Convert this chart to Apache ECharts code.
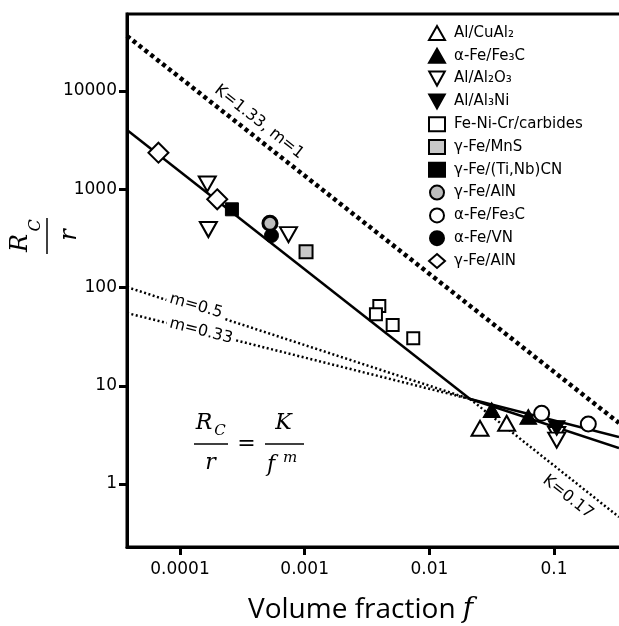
<!DOCTYPE html>
<html>
<head>
<meta charset="utf-8">
<script src="https://cdn.jsdelivr.net/npm/echarts@6/dist/echarts.min.js"></script>
<style>
  html, body { margin: 0; padding: 0; background: #fff; }
  #chart { width: 619px; height: 626px; }
</style>
</head>
<body>
<div id="chart"></div>
<script>
// axis ranges: volume fraction f (x) and Rc/r (y), both log
const xMin = 3.76e-5, xMax = 0.3575
const yMin = 0.2285, yMax = 60770
const xTicks = [0.0001, 0.001, 0.01, 0.1]
const xTickLabels = ['0.0001', '0.001', '0.01', '0.1']
const yTicks = [1, 10, 100, 1000, 10000]
const yTickLabels = ['1', '10', '100', '1000', '10000']

// legend text, in the order shown
const legendLabels = ['Al/CuAl₂', 'α-Fe/Fe₃C', 'Al/Al₂O₃', 'Al/Al₃Ni', 'Fe-Ni-Cr/carbides',
  'γ-Fe/MnS', 'γ-Fe/(Ti,Nb)CN', 'γ-Fe/AlN', 'α-Fe/Fe₃C', 'α-Fe/VN', 'γ-Fe/AlN']

// measured points (f, Rc/r)
const cuAl2F = [0.0255, 0.0417]
const cuAl2R = [3.69, 4.15]
const fe3cTriF = [0.0316, 0.0622]
const fe3cTriR = [5.66, 4.84]
const al2o3F = [1.656e-4, 1.69e-4, 7.42e-4, 0.1051, 0.1051]
const al2o3R = [1131, 389, 345, 3.19, 2.80]
const al3niF = [0.1051]
const al3niR = [3.69]
const carbF = [3.97e-3, 3.73e-3, 5.08e-3, 7.43e-3]
const carbR = [64.8, 53.4, 41.5, 30.4]
const mnsF = [1.026e-3]
const mnsR = [231]
const tinbF = [2.61e-4]
const tinbR = [625]
const alnCircF = [5.27e-4]
const alnCircR = [450]
const fe3cCircF = [0.0796, 0.1884]
const fe3cCircR = [5.24, 4.08]
const vnF = [5.42e-4]
const vnR = [338]
const alnDiaF = [6.72e-5, 1.99e-4]
const alnDiaR = [2355, 790]

// lines, end points
const k133F = [3.76e-5, 0.332]
const k133R = [36300, 4.18]
const fitF = [3.76e-5, 0.0212]
const fitR = [4010, 7.33]
const k017F = [0.0212, 0.332]
const k017R = [7.33, 0.461]
const m05F = [3.76e-5, 0.0212]
const m05R = [101, 7.33]
const m033F = [3.76e-5, 0.0212]
const m033R = [55.0, 7.33]
const upperF = [0.0212, 0.332]
const upperR = [7.33, 3.01]
const lowerF = [0.0212, 0.332]
const lowerR = [7.33, 2.32]

const pts = (fs, rs) => fs.map((f, i) => [f, rs[i]])

const chart = echarts.init(document.getElementById('chart'))

function lineSeries(fs, rs, style) {
  return {
    type: 'line',
    data: pts(fs, rs),
    symbol: 'none',
    silent: true,
    z: 1,
    lineStyle: Object.assign({ color: '#000', cap: 'butt' }, style)
  }
}

const thinDot = { width: 2.5, type: [2, 2.5] }
const solid = { width: 2.5, type: 'solid' }

const open = { color: '#fff', borderColor: '#000', borderWidth: 2, opacity: 1 }
const filled = { color: '#000', borderColor: '#000', borderWidth: 1, opacity: 1 }
const downTri = 'path://M0,0L2,0L1,1.8Z'

// legend index -> marker
const markers = [
  { f: cuAl2F, r: cuAl2R, symbol: 'triangle', size: [17, 15], style: open },
  { f: fe3cTriF, r: fe3cTriR, symbol: 'triangle', size: [17, 15], style: filled },
  { f: al2o3F, r: al2o3R, symbol: downTri, size: [17, 15], style: open },
  { f: al3niF, r: al3niR, symbol: downTri, size: [17, 15], style: filled },
  { f: carbF, r: carbR, symbol: 'rect', size: 12, style: open },
  { f: mnsF, r: mnsR, symbol: 'rect', size: 13, style: { color: '#c8c8c8', borderColor: '#000', borderWidth: 2, opacity: 1 } },
  { f: tinbF, r: tinbR, symbol: 'rect', size: 13, style: filled },
  { f: alnCircF, r: alnCircR, symbol: 'circle', size: 14, style: { color: '#bdbdbd', borderColor: '#000', borderWidth: 3, opacity: 1 } },
  { f: fe3cCircF, r: fe3cCircR, symbol: 'circle', size: 15, style: open },
  { f: vnF, r: vnR, symbol: 'circle', size: 14, style: filled },
  { f: alnDiaF, r: alnDiaR, symbol: 'diamond', size: 20, style: open }
]
// draw order: VN behind the γ-Fe/AlN circle
const drawOrder = [0, 1, 2, 3, 4, 5, 6, 9, 7, 8, 10]

const scatterSeries = drawOrder.map((i) => ({
  name: 'm' + i,
  type: 'scatter',
  data: pts(markers[i].f, markers[i].r),
  symbol: markers[i].symbol,
  symbolSize: markers[i].size,
  itemStyle: markers[i].style,
  z: 3
}))

const tickFmt = (ticks, labels) => (v) => {
  const k = ticks.findIndex((t) => Math.abs(Math.log10(v) - Math.log10(t)) < 1e-6)
  return k >= 0 ? labels[k] : ''
}

const txt = (text, x, y, extra, rotation) => ({
  type: 'text',
  x, y, z: 100,
  rotation: rotation || 0,
  style: Object.assign({ text, fill: '#000', align: 'center', verticalAlign: 'middle' }, extra)
})
const serifIt = (size) => ({ fontFamily: 'DejaVu Serif', fontStyle: 'italic', fontSize: size })
const rule = (x1, y1, x2, y2) => ({
  type: 'line', z: 100,
  shape: { x1, y1, x2, y2 },
  style: { stroke: '#000', lineWidth: 1.5 }
})
const annot = { fontFamily: 'DejaVu Sans', fontSize: 16 }
const annotBg = Object.assign({ backgroundColor: '#fff', padding: [0, 3] }, annot)
const up = Math.PI / 2

chart.setOption({
  backgroundColor: '#fff',
  animation: false,
  grid: {
    left: 127, top: 14, right: -4, bottom: 79,
    show: true, borderColor: '#000', borderWidth: 3,
    outerBoundsMode: 'none'
  },
  legend: {
    orient: 'vertical',
    left: 428, top: 25, padding: 0,
    itemWidth: 16, itemHeight: 14, itemGap: 6.8,
    selectedMode: false,
    data: markers.map((m, i) => ({ name: 'm' + i, icon: m.symbol })),
    formatter: (n) => legendLabels[+n.slice(1)],
    textStyle: { fontFamily: 'DejaVu Sans', fontSize: 15, color: '#000', padding: [0, 0, 0, 4] }
  },
  xAxis: {
    type: 'log', logBase: 10, min: xMin, max: xMax,
    axisLine: { lineStyle: { color: '#000', width: 3 } },
    axisTick: { length: 8, lineStyle: { color: '#000', width: 3 }, customValues: xTicks },
    splitLine: { show: false },
    axisLabel: {
      customValues: xTicks,
      formatter: tickFmt(xTicks, xTickLabels),
      fontFamily: 'DejaVu Sans', fontSize: 17, color: '#000', margin: 14
    }
  },
  yAxis: {
    type: 'log', logBase: 10, min: yMin, max: yMax,
    axisLine: { lineStyle: { color: '#000', width: 3 } },
    axisTick: { length: 8, lineStyle: { color: '#000', width: 3 }, customValues: yTicks },
    splitLine: { show: false },
    axisLabel: {
      customValues: yTicks,
      formatter: tickFmt(yTicks, yTickLabels),
      fontFamily: 'DejaVu Sans', fontSize: 17, color: '#000', margin: 10
    }
  },
  series: [
    lineSeries(k133F, k133R, { width: 4.5, type: [4, 3.5] }),
    lineSeries(fitF, fitR, solid),
    lineSeries(k017F, k017R, thinDot),
    lineSeries(m05F, m05R, thinDot),
    lineSeries(m033F, m033R, thinDot),
    lineSeries(upperF, upperR, solid),
    lineSeries(lowerF, lowerR, solid)
  ].concat(scatterSeries),
  graphic: [
    // y axis title: Rc / r, turned to read upwards
    txt('R', 21, 243, serifIt(24), up),
    txt('C', 36, 225.5, serifIt(16), up),
    rule(47, 218, 47, 254),
    txt('r', 70, 235, serifIt(24), up),
    // x axis title
    txt('Volume fraction {f|f}', 248, 610, {
      align: 'left', fontFamily: 'Open Sans', fontSize: 28,
      rich: { f: { fontFamily: 'DejaVu Serif', fontStyle: 'italic', fontSize: 28 } }
    }),
    // equation Rc/r = K/f^m
    txt('R', 204, 423, serifIt(22)),
    txt('C', 220, 431, serifIt(15)),
    rule(194, 444, 228, 444),
    txt('r', 210.5, 463, serifIt(22)),
    txt('=', 246.5, 444, { fontFamily: 'DejaVu Serif', fontSize: 22 }),
    txt('K', 283.5, 423, serifIt(22)),
    rule(265, 444, 304, 444),
    txt('f', 271, 465, serifIt(22)),
    txt('m', 290, 458, serifIt(15)),
    // line labels
    txt('K=1.33, m=1', 259, 122, annot, -0.667),
    txt('m=0.5', 196, 306, annotBg, -0.28),
    txt('m=0.33', 201, 331, annotBg, -0.245),
    txt('K=0.17', 568, 497, annot, -0.667)
  ]
})

window.addEventListener('resize', () => {
  chart.resize()
})
</script>
</body>
</html>
